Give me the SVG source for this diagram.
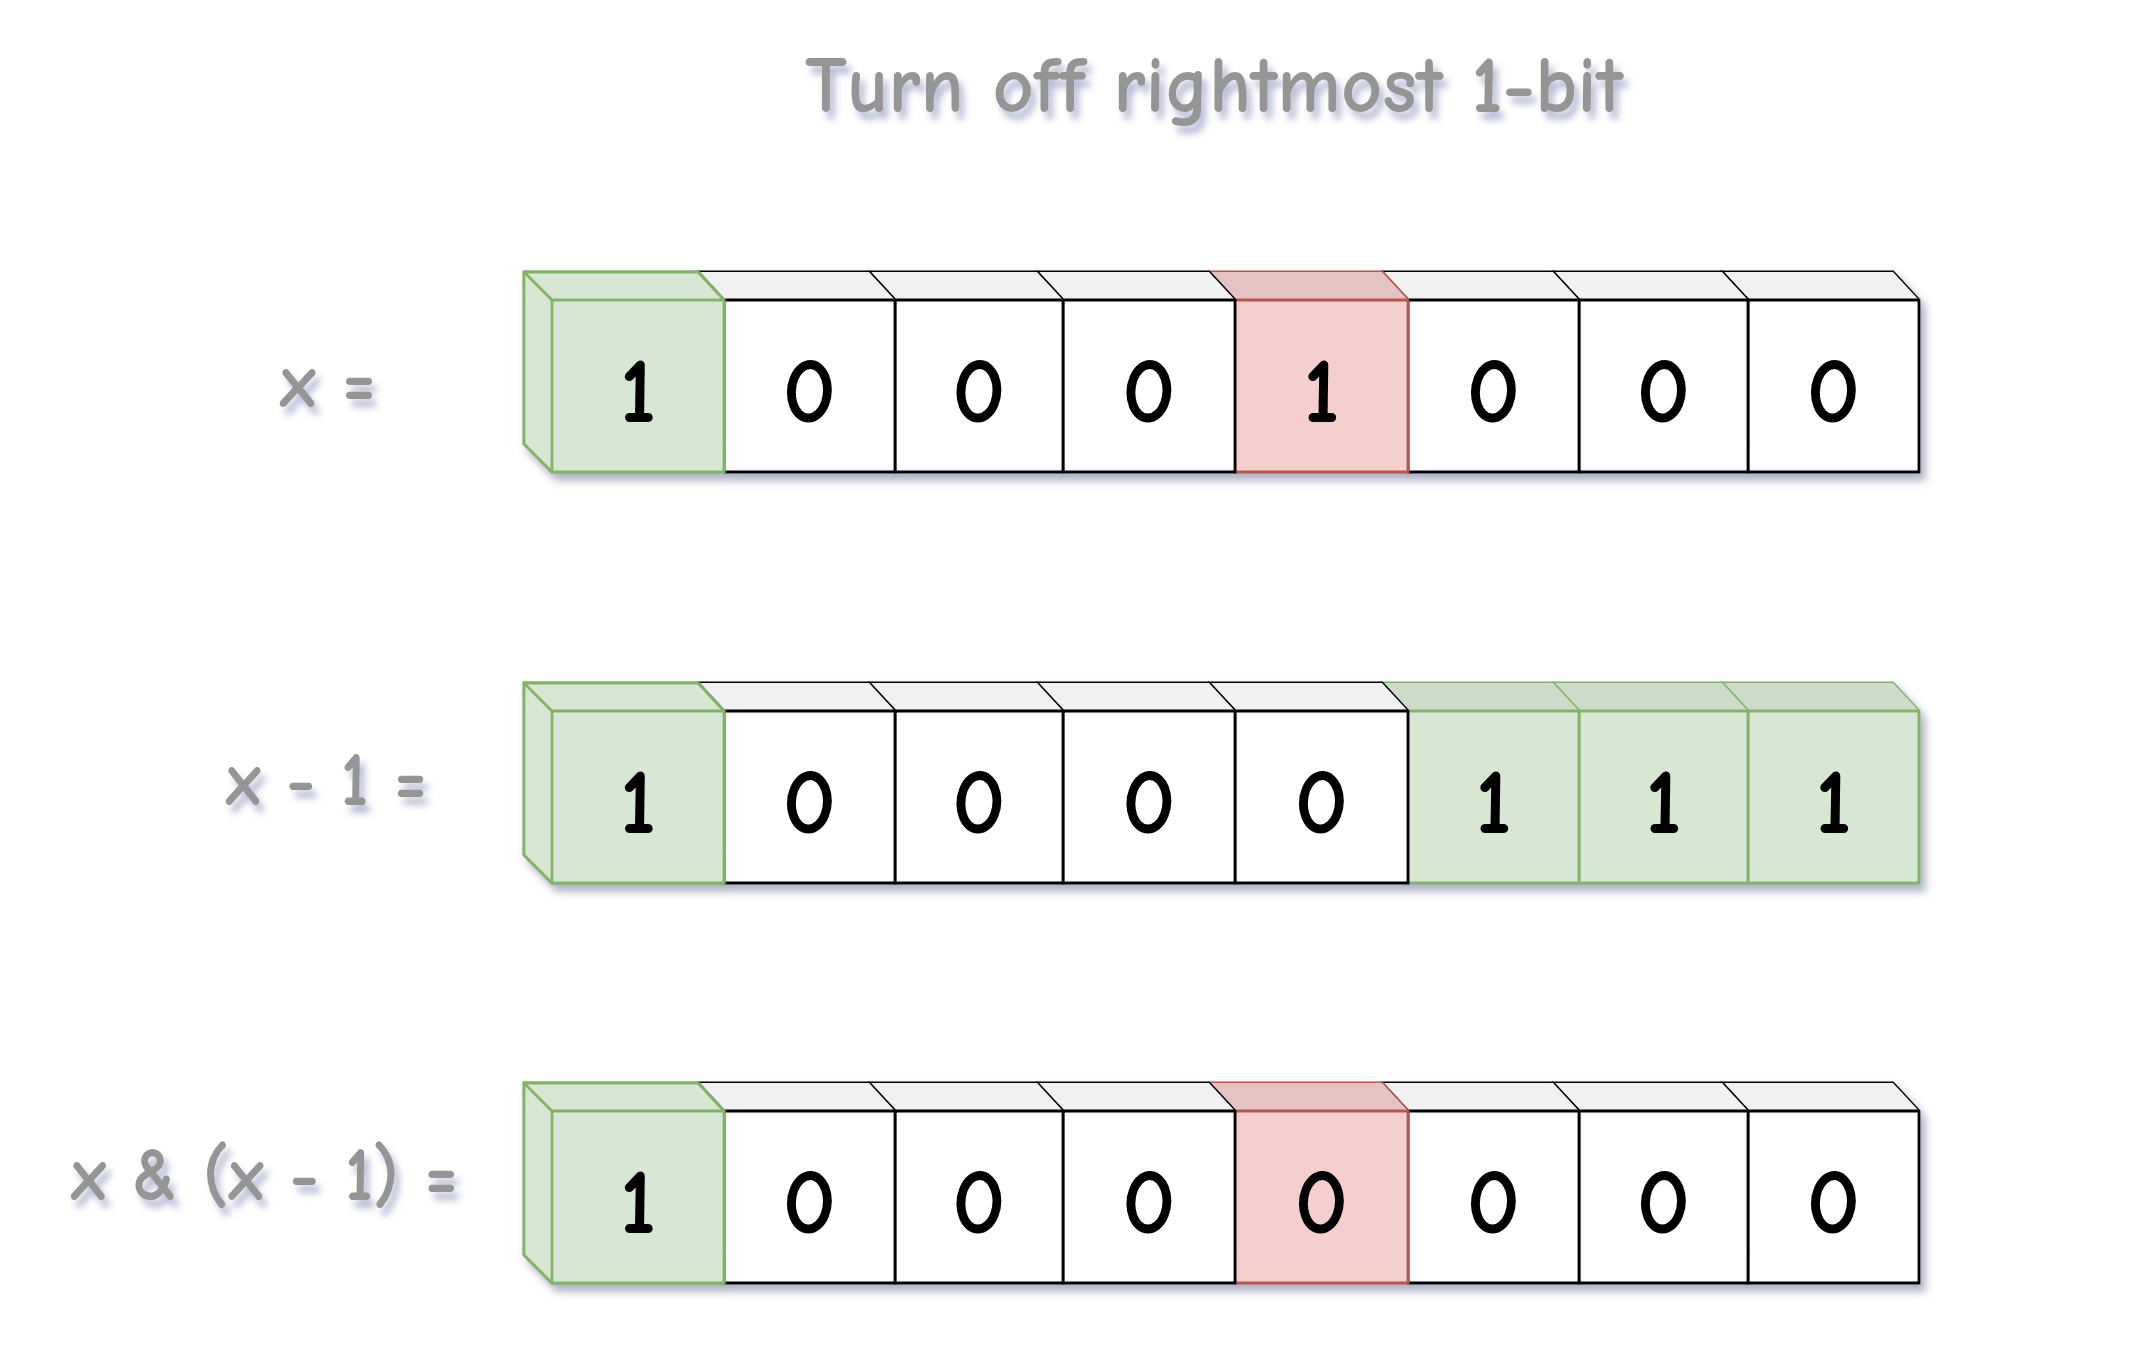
<svg xmlns="http://www.w3.org/2000/svg" width="2146" height="1348" viewBox="0 0 2146 1348">
<defs>
<filter id="boxShadow" x="-5%" y="-20%" width="110%" height="150%">
<feGaussianBlur in="SourceAlpha" stdDeviation="4"/>
<feOffset dx="5" dy="7" result="b"/>
<feFlood flood-color="#5c6488" flood-opacity="0.5"/>
<feComposite in2="b" operator="in"/>
<feMerge><feMergeNode/><feMergeNode in="SourceGraphic"/></feMerge>
</filter>
<filter id="textShadow" x="-10%" y="-30%" width="120%" height="170%">
<feGaussianBlur in="SourceAlpha" stdDeviation="3.5"/>
<feOffset dx="5" dy="8" result="b"/>
<feFlood flood-color="#7078a8" flood-opacity="0.5"/>
<feComposite in2="b" operator="in"/>
<feMerge><feMergeNode/><feMergeNode in="SourceGraphic"/></feMerge>
</filter>
</defs>
<style>
.lbl{font-family:"Comic Sans MS","Comic Neue","DejaVu Sans",sans-serif;font-weight:bold;fill:#959595;font-size:76px}
.ttl{font-family:"Comic Sans MS","Comic Neue","DejaVu Sans",sans-serif;font-weight:bold;fill:#959595;font-size:80px}
.dig{font-family:"Comic Sans MS","Comic Neue","DejaVu Sans",sans-serif;font-weight:bold;fill:#000;font-size:94px;text-anchor:middle}
.w .body{fill:#ffffff;stroke:#000;stroke-width:2.8}
.w .top{fill:#f1f1f1}
.w .edge{fill:none;stroke:#000;stroke-width:2.8}
.g .body{fill:#d7e7d4;stroke:#82b366;stroke-width:2.8}
.g .top{fill:#ccdcc9}
.g .side{fill:#c2d1bf}
.g .edge{fill:none;stroke:#82b366;stroke-width:2.8}
.r .body{fill:#f4cfcd;stroke:#b85450;stroke-width:2.8}
.r .top{fill:#e4c4c2}
.r .edge{fill:none;stroke:#b85450;stroke-width:2.8}
.outline{fill:none}
</style>
<rect width="2146" height="1348" fill="#ffffff"/>

<g id="title" filter="url(#textShadow)">
<text class="ttl" x="805" y="112" textLength="818" lengthAdjust="spacingAndGlyphs">Turn off rightmost 1-bit</text>
</g>

<g id="label-x" filter="url(#textShadow)">
<text class="lbl" x="280" y="407" textLength="96" lengthAdjust="spacingAndGlyphs">x =</text>
</g>
<g id="label-xm1" filter="url(#textShadow)">
<text class="lbl" x="226" y="805" textLength="201" lengthAdjust="spacingAndGlyphs">x - 1 =</text>
</g>
<g id="label-xand" filter="url(#textShadow)">
<text class="lbl" x="71" y="1200" textLength="387" lengthAdjust="spacingAndGlyphs">x &amp; (x - 1) =</text>
</g>

<!-- Row 1: x = 10001000 -->
<g id="row1" filter="url(#boxShadow)">
<g id="r1c8" class="w"><polygon class="body" points="1722,272 1893,272 1919,300 1919,472 1748,472 1722,444"/><polygon class="top" points="1722,272 1893,272 1919,300 1748,300"/><path class="edge" d="M1722,272 L1748,300 L1919,300 M1748,300 L1748,472"/><text class="dig" x="1833.5" y="422">0</text></g>
<g id="r1c7" class="w"><polygon class="body" points="1553,272 1722,272 1748,300 1748,472 1579,472 1553,444"/><polygon class="top" points="1553,272 1722,272 1748,300 1579,300"/><path class="edge" d="M1553,272 L1579,300 L1748,300 M1579,300 L1579,472"/><text class="dig" x="1663.5" y="422">0</text></g>
<g id="r1c6" class="w"><polygon class="body" points="1382,272 1553,272 1579,300 1579,472 1408,472 1382,444"/><polygon class="top" points="1382,272 1553,272 1579,300 1408,300"/><path class="edge" d="M1382,272 L1408,300 L1579,300 M1408,300 L1408,472"/><text class="dig" x="1493.5" y="422">0</text></g>
<g id="r1c5" class="r"><polygon class="body" points="1209,272 1382,272 1408,300 1408,472 1235,472 1209,444"/><polygon class="top" points="1209,272 1382,272 1408,300 1235,300"/><path class="edge" d="M1209,272 L1235,300 L1408,300 M1235,300 L1235,472"/><text class="dig" x="1321.5" y="422">1</text></g>
<g id="r1c4" class="w"><polygon class="body" points="1037,272 1209,272 1235,300 1235,472 1063,472 1037,444"/><polygon class="top" points="1037,272 1209,272 1235,300 1063,300"/><path class="edge" d="M1037,272 L1063,300 L1235,300 M1063,300 L1063,472"/><text class="dig" x="1149" y="422">0</text></g>
<g id="r1c3" class="w"><polygon class="body" points="869,272 1037,272 1063,300 1063,472 895,472 869,444"/><polygon class="top" points="869,272 1037,272 1063,300 895,300"/><path class="edge" d="M869,272 L895,300 L1063,300 M895,300 L895,472"/><text class="dig" x="979" y="422">0</text></g>
<g id="r1c2" class="w"><polygon class="body" points="698,272 869,272 895,300 895,472 724,472 698,444"/><polygon class="top" points="698,272 869,272 895,300 724,300"/><path class="edge" d="M698,272 L724,300 L895,300 M724,300 L724,472"/><text class="dig" x="809.5" y="422">0</text></g>
<g id="r1c1" class="g"><polygon class="body" points="524,272 698,272 724,300 724,472 552,472 524,444"/><polygon class="top" points="524,272 698,272 724,300 552,300"/><polygon class="side" points="524,272 552,300 552,472 524,444"/><polygon class="body outline" points="524,272 698,272 724,300 724,472 552,472 524,444"/><path class="edge" d="M524,272 L552,300 L724,300 M552,300 L552,472"/><text class="dig" x="638" y="422">1</text></g>
</g>

<!-- Row 2: x - 1 = 10000111 -->
<g id="row2" filter="url(#boxShadow)">
<g id="r2c8" class="g"><polygon class="body" points="1722,683 1893,683 1919,711 1919,883 1748,883 1722,855"/><polygon class="top" points="1722,683 1893,683 1919,711 1748,711"/><path class="edge" d="M1722,683 L1748,711 L1919,711 M1748,711 L1748,883"/><text class="dig" x="1833.5" y="833">1</text></g>
<g id="r2c7" class="g"><polygon class="body" points="1553,683 1722,683 1748,711 1748,883 1579,883 1553,855"/><polygon class="top" points="1553,683 1722,683 1748,711 1579,711"/><path class="edge" d="M1553,683 L1579,711 L1748,711 M1579,711 L1579,883"/><text class="dig" x="1663.5" y="833">1</text></g>
<g id="r2c6" class="g"><polygon class="body" points="1382,683 1553,683 1579,711 1579,883 1408,883 1382,855"/><polygon class="top" points="1382,683 1553,683 1579,711 1408,711"/><path class="edge" d="M1382,683 L1408,711 L1579,711 M1408,711 L1408,883"/><text class="dig" x="1493.5" y="833">1</text></g>
<g id="r2c5" class="w"><polygon class="body" points="1209,683 1382,683 1408,711 1408,883 1235,883 1209,855"/><polygon class="top" points="1209,683 1382,683 1408,711 1235,711"/><path class="edge" d="M1209,683 L1235,711 L1408,711 M1235,711 L1235,883"/><text class="dig" x="1321.5" y="833">0</text></g>
<g id="r2c4" class="w"><polygon class="body" points="1037,683 1209,683 1235,711 1235,883 1063,883 1037,855"/><polygon class="top" points="1037,683 1209,683 1235,711 1063,711"/><path class="edge" d="M1037,683 L1063,711 L1235,711 M1063,711 L1063,883"/><text class="dig" x="1149" y="833">0</text></g>
<g id="r2c3" class="w"><polygon class="body" points="869,683 1037,683 1063,711 1063,883 895,883 869,855"/><polygon class="top" points="869,683 1037,683 1063,711 895,711"/><path class="edge" d="M869,683 L895,711 L1063,711 M895,711 L895,883"/><text class="dig" x="979" y="833">0</text></g>
<g id="r2c2" class="w"><polygon class="body" points="698,683 869,683 895,711 895,883 724,883 698,855"/><polygon class="top" points="698,683 869,683 895,711 724,711"/><path class="edge" d="M698,683 L724,711 L895,711 M724,711 L724,883"/><text class="dig" x="809.5" y="833">0</text></g>
<g id="r2c1" class="g"><polygon class="body" points="524,683 698,683 724,711 724,883 552,883 524,855"/><polygon class="top" points="524,683 698,683 724,711 552,711"/><polygon class="side" points="524,683 552,711 552,883 524,855"/><polygon class="body outline" points="524,683 698,683 724,711 724,883 552,883 524,855"/><path class="edge" d="M524,683 L552,711 L724,711 M552,711 L552,883"/><text class="dig" x="638" y="833">1</text></g>
</g>

<!-- Row 3: x & (x - 1) = 10000000 -->
<g id="row3" filter="url(#boxShadow)">
<g id="r3c8" class="w"><polygon class="body" points="1722,1083 1893,1083 1919,1111 1919,1283 1748,1283 1722,1255"/><polygon class="top" points="1722,1083 1893,1083 1919,1111 1748,1111"/><path class="edge" d="M1722,1083 L1748,1111 L1919,1111 M1748,1111 L1748,1283"/><text class="dig" x="1833.5" y="1233">0</text></g>
<g id="r3c7" class="w"><polygon class="body" points="1553,1083 1722,1083 1748,1111 1748,1283 1579,1283 1553,1255"/><polygon class="top" points="1553,1083 1722,1083 1748,1111 1579,1111"/><path class="edge" d="M1553,1083 L1579,1111 L1748,1111 M1579,1111 L1579,1283"/><text class="dig" x="1663.5" y="1233">0</text></g>
<g id="r3c6" class="w"><polygon class="body" points="1382,1083 1553,1083 1579,1111 1579,1283 1408,1283 1382,1255"/><polygon class="top" points="1382,1083 1553,1083 1579,1111 1408,1111"/><path class="edge" d="M1382,1083 L1408,1111 L1579,1111 M1408,1111 L1408,1283"/><text class="dig" x="1493.5" y="1233">0</text></g>
<g id="r3c5" class="r"><polygon class="body" points="1209,1083 1382,1083 1408,1111 1408,1283 1235,1283 1209,1255"/><polygon class="top" points="1209,1083 1382,1083 1408,1111 1235,1111"/><path class="edge" d="M1209,1083 L1235,1111 L1408,1111 M1235,1111 L1235,1283"/><text class="dig" x="1321.5" y="1233">0</text></g>
<g id="r3c4" class="w"><polygon class="body" points="1037,1083 1209,1083 1235,1111 1235,1283 1063,1283 1037,1255"/><polygon class="top" points="1037,1083 1209,1083 1235,1111 1063,1111"/><path class="edge" d="M1037,1083 L1063,1111 L1235,1111 M1063,1111 L1063,1283"/><text class="dig" x="1149" y="1233">0</text></g>
<g id="r3c3" class="w"><polygon class="body" points="869,1083 1037,1083 1063,1111 1063,1283 895,1283 869,1255"/><polygon class="top" points="869,1083 1037,1083 1063,1111 895,1111"/><path class="edge" d="M869,1083 L895,1111 L1063,1111 M895,1111 L895,1283"/><text class="dig" x="979" y="1233">0</text></g>
<g id="r3c2" class="w"><polygon class="body" points="698,1083 869,1083 895,1111 895,1283 724,1283 698,1255"/><polygon class="top" points="698,1083 869,1083 895,1111 724,1111"/><path class="edge" d="M698,1083 L724,1111 L895,1111 M724,1111 L724,1283"/><text class="dig" x="809.5" y="1233">0</text></g>
<g id="r3c1" class="g"><polygon class="body" points="524,1083 698,1083 724,1111 724,1283 552,1283 524,1255"/><polygon class="top" points="524,1083 698,1083 724,1111 552,1111"/><polygon class="side" points="524,1083 552,1111 552,1283 524,1255"/><polygon class="body outline" points="524,1083 698,1083 724,1111 724,1283 552,1283 524,1255"/><path class="edge" d="M524,1083 L552,1111 L724,1111 M552,1111 L552,1283"/><text class="dig" x="638" y="1233">1</text></g>
</g>

<g id="connectors"></g>
</svg>
